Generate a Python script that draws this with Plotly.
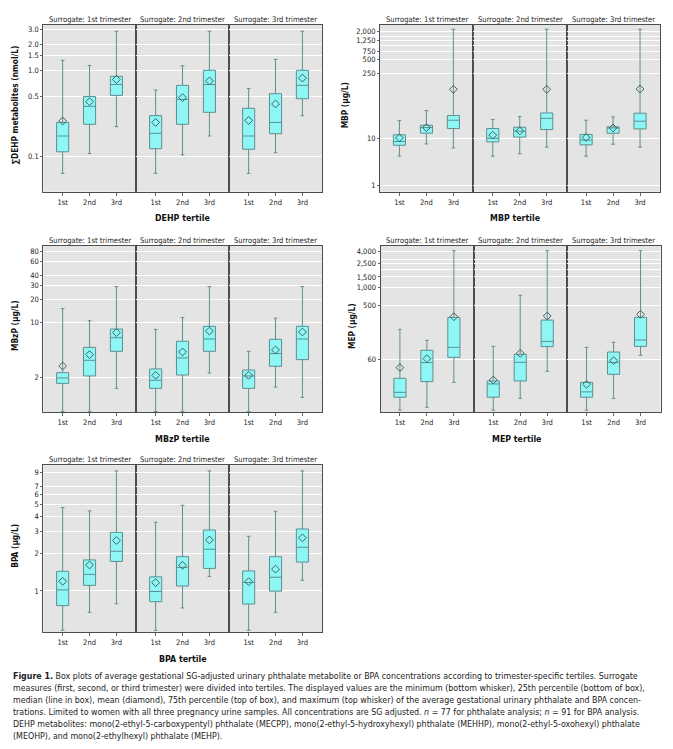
import plotly.graph_objects as go

W, H = 673, 749

tertiles = ["1st", "2nd", "3rd"]
facet_titles = ["Surrogate: 1st trimester", "Surrogate: 2nd trimester", "Surrogate: 3rd trimester"]

# Values ordered: facet1 (1st,2nd,3rd tertile), facet2 (...), facet3 (...)
dehp_min  = [0.064, 0.109, 0.223, 0.064, 0.105, 0.174, 0.064, 0.111, 0.30]
dehp_q1   = [0.114, 0.238, 0.516, 0.124, 0.238, 0.328, 0.122, 0.185, 0.472]
dehp_med  = [0.174, 0.385, 0.69, 0.187, 0.464, 0.69, 0.174, 0.25, 0.675]
dehp_mean = [0.26, 0.436, 0.79, 0.25, 0.486, 0.76, 0.264, 0.41, 0.82]
dehp_q3   = [0.25, 0.50, 0.86, 0.30, 0.675, 1.01, 0.365, 0.54, 1.01]
dehp_max  = [1.32, 1.15, 2.87, 0.596, 1.14, 2.87, 0.62, 1.355, 2.87]

mbp_min  = [4.28, 7.8, 6.4, 4.28, 4.8, 6.65, 4.28, 7.7, 6.65]
mbp_q1   = [7.3, 13.2, 16.6, 8.6, 10.9, 15.8, 7.45, 13.2, 16.3]
mbp_med  = [8.8, 17.4, 25, 10.3, 14.6, 27.5, 9.4, 17.1, 23.8]
mbp_mean = [10.5, 17.4, 114, 12, 14.8, 114, 10.7, 17.1, 116]
mbp_q3   = [12.2, 19.5, 31.4, 16.6, 17.7, 35.7, 12.4, 18, 35.2]
mbp_max  = [24.5, 40, 2190, 25.8, 29.9, 2190, 25, 29.4, 2190]

mbzp_min  = [0.74, 0.74, 1.46, 0.74, 0.74, 2.29, 0.74, 1.52, 1.12]
mbzp_q1   = [1.69, 2.1, 4.32, 1.46, 2.16, 4.32, 1.46, 2.79, 3.39]
mbzp_med  = [1.98, 3.32, 6.44, 1.85, 3.56, 6.2, 2.1, 4.04, 6.2]
mbzp_mean = [2.81, 3.92, 7.47, 2.14, 4.24, 7.83, 2.14, 4.5, 7.6]
mbzp_q3   = [2.31, 4.85, 8.3, 2.58, 5.8, 8.98, 2.5, 6.14, 8.98]
mbzp_max  = [15.1, 10.6, 28.7, 8.2, 11.6, 28.7, 4.32, 11.4, 28.7]

mep_min  = [8.4, 9.4, 24.8, 8.4, 13.3, 38.1, 8.4, 13.3, 71]
mep_q1   = [13.9, 25.5, 65.6, 13.9, 26.2, 99.5, 13.9, 33.9, 100.7]
mep_med  = [16.8, 53.4, 96.8, 23.3, 54, 122, 17.1, 54, 129]
mep_mean = [44, 62.4, 319, 27.2, 76.7, 328, 23, 57.7, 350]
mep_q3   = [29, 86.3, 311, 26.2, 73.8, 280, 24.8, 80.8, 311]
mep_max  = [195, 127, 4160, 100.7, 733, 4160, 96.8, 118, 4160]

bpa_min  = [0.482, 0.673, 0.79, 0.482, 0.73, 1.31, 0.482, 0.673, 1.22]
bpa_q1   = [0.762, 1.11, 1.73, 0.82, 1.097, 1.52, 0.785, 0.997, 1.71]
bpa_med  = [1.02, 1.36, 2.09, 0.99, 1.55, 2.17, 1.17, 1.29, 2.25]
bpa_mean = [1.197, 1.62, 2.55, 1.167, 1.61, 2.58, 1.19, 1.50, 2.68]
bpa_q3   = [1.44, 1.78, 2.97, 1.30, 1.89, 3.1, 1.45, 1.89, 3.16]
bpa_max  = [4.7, 4.42, 9.28, 3.58, 4.91, 9.28, 2.76, 4.39, 9.28]

dehp_ticks = [0.1, 0.5, 1, 1.5, 2, 3]
dehp_labels = ["0.1", "0.5", "1.0", "1.5", "2.0", "3.0"]
mbp_ticks = [1, 10, 250, 500, 750, 1250, 2000]
mbp_labels = ["1", "10", "250", "500", "750", "1,250", "2,000"]
mbzp_ticks = [2, 10, 20, 30, 40, 60, 80]
mbzp_labels = ["2", "10", "20", "30", "40", "60", "80"]
mep_ticks = [60, 500, 1000, 1500, 2500, 4000]
mep_labels = ["60", "500", "1,000", "1,500", "2,500", "4,000"]
bpa_ticks = [1, 2, 3, 4, 5, 6, 7, 9]
bpa_labels = ["1", "2", "3", "4", "5", "6", "7", "9"]

panels = [
    dict(data=(dehp_min, dehp_q1, dehp_med, dehp_mean, dehp_q3, dehp_max),
         ticks=dehp_ticks, labels=dehp_labels, minor=[], yr=[-1.407, 0.531],
         ytitle="\u2211DEHP metabolites (nmol/L)", xtitle="DEHP tertile",
         box=(43.3, 322.3, 25, 191.7), ytx=15, xtx=182.8),
    dict(data=(mbp_min, mbp_q1, mbp_med, mbp_mean, mbp_q3, mbp_max),
         ticks=mbp_ticks, labels=mbp_labels, minor=[1000, 1500], yr=[-0.128, 3.43],
         ytitle="MBP (\u03bcg/L)", xtitle="MBP tertile",
         box=(380.0, 660.0, 25, 191.7), ytx=345, xtx=515),
    dict(data=(mbzp_min, mbzp_q1, mbzp_med, mbzp_mean, mbzp_q3, mbzp_max),
         ticks=mbzp_ticks, labels=mbzp_labels, minor=[], yr=[-0.14, 1.979],
         ytitle="MBzP (\u03bcg/L)", xtitle="MBzP tertile",
         box=(43.3, 322.3, 245.7, 412.3), ytx=15, xtx=182.8),
    dict(data=(mep_min, mep_q1, mep_med, mep_mean, mep_q3, mep_max),
         ticks=mep_ticks, labels=mep_labels, minor=[2000, 3000], yr=[0.888, 3.704],
         ytitle="MEP (\u03bcg/L)", xtitle="MEP tertile",
         box=(380.5, 660.5, 245.7, 412.3), ytx=352, xtx=516),
    dict(data=(bpa_min, bpa_q1, bpa_med, bpa_mean, bpa_q3, bpa_max),
         ticks=bpa_ticks, labels=bpa_labels, minor=[], yr=[-0.333, 1.013],
         ytitle="BPA (\u03bcg/L)", xtitle="BPA tertile",
         box=(43.3, 322.3, 465.3, 632.3), ytx=15, xtx=182.8),
]

FONT = "Liberation Sans Narrow, DejaVu Sans Condensed, Arial Narrow, sans-serif"
BG = "#e4e4e4"
FRAME = "#4d4d4d"
BOXFILL = "#8ff6f6"
BOXLINE = "#5f8f8f"
MEANCOL = "#3e6464"

fig = go.Figure()
layout = {}
annotations = []

def px_x(v):
    return v / W

def px_y(v):
    return 1 - v / H

k = 0
for p in panels:
    x0, x1, yt, yb = p["box"]
    fw = (x1 - x0) / 3.0
    mins, q1s, meds, means, q3s, maxs = p["data"]
    first_y = None
    for f in range(3):
        k += 1
        xa = "x" if k == 1 else f"x{k}"
        ya = "y" if k == 1 else f"y{k}"
        xkey = "xaxis" if k == 1 else f"xaxis{k}"
        ykey = "yaxis" if k == 1 else f"yaxis{k}"
        sl = slice(3 * f, 3 * f + 3)
        fig.add_trace(go.Box(
            x=tertiles, q1=q1s[sl], median=meds[sl], q3=q3s[sl],
            lowerfence=mins[sl], upperfence=maxs[sl],
            xaxis=xa, yaxis=ya, width=0.45, whiskerwidth=0.3,
            fillcolor=BOXFILL, line=dict(color=BOXLINE, width=1),
            boxpoints=False, showlegend=False, hoverinfo="skip"))
        fig.add_trace(go.Scatter(
            x=tertiles, y=means[sl], mode="markers", xaxis=xa, yaxis=ya,
            marker=dict(symbol="diamond-open", size=6, color=MEANCOL,
                        line=dict(width=1, color=MEANCOL)),
            showlegend=False, hoverinfo="skip"))
        fx0 = x0 + f * fw
        fx1 = fx0 + fw
        layout[xkey] = dict(
            domain=[px_x(fx0), px_x(fx1)], anchor=ya, type="category",
            categoryorder="array", categoryarray=tertiles, range=[-0.72, 2.74],
            showgrid=False, zeroline=False, showline=True, mirror=True,
            linecolor=FRAME, linewidth=1, ticks="outside", ticklen=3,
            tickcolor="#666", tickfont=dict(family=FONT, size=7.5, color="#222"),
            fixedrange=True)
        yd = dict(
            domain=[px_y(yb), px_y(yt)], anchor=xa, type="log", range=p["yr"],
            tickmode="array", tickvals=p["ticks"], ticktext=p["labels"],
            showgrid=True, gridcolor="white", gridwidth=1, zeroline=False,
            showline=True, mirror=True, linecolor=FRAME, linewidth=1,
            ticks="outside" if f == 0 else "", ticklen=2, tickcolor="#666",
            showticklabels=(f == 0),
            tickfont=dict(family=FONT, size=7.5, color="#222"), fixedrange=True,
            minor=dict(tickvals=p["minor"], showgrid=True, gridcolor="white",
                       gridwidth=1, ticks=""))
        if f == 0:
            first_y = ya
        else:
            yd["matches"] = first_y
        layout[ykey] = yd
        annotations.append(dict(
            text=facet_titles[f], x=px_x((fx0 + fx1) / 2), y=px_y(yt - 5.5),
            xref="paper", yref="paper", xanchor="center", yanchor="middle",
            showarrow=False, font=dict(family=FONT, size=7.6, color="#222")))
    annotations.append(dict(
        text=f"<b>{p['xtitle']}</b>", x=px_x(p["xtx"]), y=px_y(yb + 26.5),
        xref="paper", yref="paper", xanchor="center", yanchor="middle",
        showarrow=False, font=dict(family=FONT, size=8.8, color="#111")))
    annotations.append(dict(
        text=f"<b>{p['ytitle']}</b>", x=px_x(p["ytx"]), y=px_y((yt + yb) / 2 - 3),
        xref="paper", yref="paper", xanchor="center", yanchor="middle",
        textangle=-90, showarrow=False,
        font=dict(family=FONT, size=8.3, color="#111")))

caption_lines = [
    "<b>Figure 1.</b> Box plots of average gestational SG-adjusted urinary phthalate metabolite or BPA concentrations according to trimester-specific tertiles. Surrogate",
    "measures (first, second, or third trimester) were divided into tertiles. The displayed values are the minimum (bottom whisker), 25th percentile (bottom of box),",
    "median (line in box), mean (diamond), 75th percentile (top of box), and maximum (top whisker) of the average gestational urinary phthalate and BPA concen-",
    "trations. Limited to women with all three pregnancy urine samples. All concentrations are SG adjusted. <i>n</i> = 77 for phthalate analysis; <i>n</i> = 91 for BPA analysis.",
    "DEHP metabolites: mono(2-ethyl-5-carboxypentyl) phthalate (MECPP), mono(2-ethyl-5-hydroxyhexyl) phthalate (MEHHP), mono(2-ethyl-5-oxohexyl) phthalate",
    "(MEOHP), and mono(2-ethylhexyl) phthalate (MEHP).",
]
for i, line in enumerate(caption_lines):
    annotations.append(dict(
        text=line, x=px_x(11), y=px_y(676 + 12 * i), xref="paper", yref="paper",
        xanchor="left", yanchor="middle", showarrow=False,
        font=dict(family=FONT, size=8.8, color="#222")))

fig.update_layout(
    width=W, height=H, margin=dict(l=0, r=0, t=0, b=0),
    paper_bgcolor="white", plot_bgcolor=BG, showlegend=False,
    annotations=annotations, **layout)

fig.write_html("out.html", config={"displayModeBar": False},
               post_script="document.body.style.margin='0px';")
